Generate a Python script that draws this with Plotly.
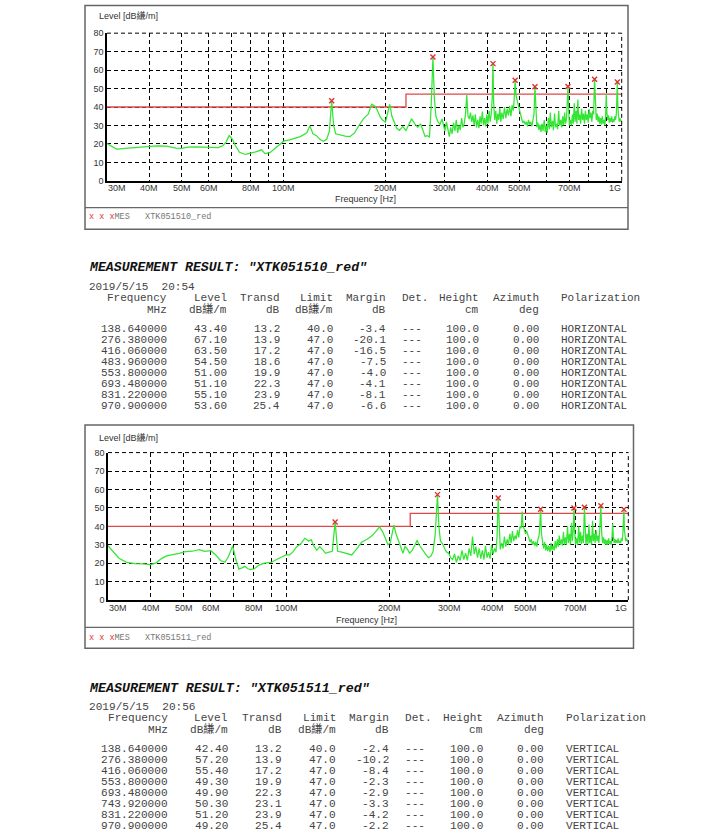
import math
import plotly.graph_objects as go

W, H = 726, 837

# ---------------- spectrum data (MHz, dBuV/m) ----------------
h_spectrum = [
    (30, 20.2), (31, 18.5), (32, 17.2), (34, 17.6), (36, 18.0), (38, 18.3), (40, 18.6), (42, 19.0),
    (45, 18.8), (48, 17.8), (50, 17.6), (52, 18.3), (55, 18.4), (58, 18.3), (61, 18.0), (64, 18.0),
    (66, 19.0), (67.5, 21.0), (69, 24.6), (70.5, 22.5), (72, 19.0), (74, 15.5), (77, 14.3), (80, 15.0),
    (83, 15.8), (86, 16.8), (88, 14.8), (91, 15.3), (94, 17.5), (97, 19.5), (100, 21.5), (104, 22.2),
    (108, 23.0), (112, 24.0), (117, 26.0), (119.5, 29.8), (122, 25.5), (125, 24.5), (128, 22.5),
    (131, 21.5), (134, 22.5), (136.5, 27.0), (138.64, 43.4), (140.5, 30.0), (142.5, 25.5), (147, 24.8),
    (152, 24.2), (157, 24.0), (162, 26.0), (167, 30.0), (172, 33.6), (178, 36.3), (182, 41.5),
    (186, 40.5), (189, 38.5), (193, 34.5), (196, 33.0), (200, 31.8), (203, 36.0), (206, 41.5),
    (209, 35.0), (212, 32.5), (216, 28.5), (220, 27.3), (225, 29.5), (230, 27.3), (234, 30.5),
    (239, 33.6), (244, 31.0), (249, 29.0), (254, 30.9), (258, 27.0), (262, 24.1), (266, 24.5),
    (270, 23.8), (273, 40.0), (276.38, 67.1), (279, 45.0), (282, 35.0), (286, 32.0), (290, 30.5),
    (294, 33.5), (297, 29.5), (300, 27.0), (303, 32.0), (306, 28.0), (309, 24.0), (312, 29.0),
    (315, 25.5), (318, 31.5), (321, 27.0), (324, 33.0), (327, 26.0), (330, 30.0), (333, 27.5),
    (336, 34.0), (339, 29.0), (342, 31.0), (345, 36.0), (348, 46.5), (351, 35.0), (354, 33.5),
    (357, 37.0), (360, 32.0), (363, 35.5), (366, 30.0), (369, 36.0), (372, 29.0), (375, 33.0),
    (378, 28.5), (381, 35.0), (384, 31.0), (387, 37.5), (390, 30.0), (393, 34.0), (396, 29.5),
    (399, 36.0), (402, 31.0), (405, 38.0), (408, 32.0), (411, 36.0), (414, 45.0), (416.06, 63.5),
    (418, 42.0), (421, 33.0), (424, 38.0), (427, 31.0), (430, 36.5), (433, 33.0), (436, 39.5),
    (439, 32.0), (442, 37.0), (446, 33.5), (450, 40.0), (454, 34.0), (458, 39.0), (462, 35.5),
    (466, 40.5), (470, 35.0), (474, 41.0), (478, 38.0), (481, 45.0), (483.96, 54.5), (487, 46.0),
    (490, 44.0), (494, 40.0), (498, 38.0), (502, 35.0), (506, 33.5), (510, 31.5), (514, 32.5),
    (518, 30.5), (522, 32.0), (526, 29.5), (530, 33.0), (534, 30.5), (538, 32.0), (542, 29.5),
    (546, 33.0), (550, 36.0), (553.8, 51.0), (557, 36.0), (561, 29.0), (565, 31.5), (569, 27.5),
    (573, 30.5), (577, 26.5), (581, 31.0), (585, 27.0), (590, 33.0), (594, 26.5), (598, 30.0),
    (602, 26.0), (607, 34.0), (611, 28.0), (615, 37.0), (619, 29.0), (624, 32.5), (628, 27.5),
    (633, 36.5), (637, 29.0), (642, 31.0), (646, 28.0), (651, 38.0), (655, 30.0), (660, 33.0),
    (664, 29.0), (669, 35.0), (673, 30.0), (678, 37.0), (682, 31.0), (687, 34.0), (690, 40.0),
    (693.48, 51.1), (697, 38.0), (700, 30.0), (705, 33.0), (710, 30.0), (715, 36.0), (719, 31.0),
    (724, 42.0), (728, 32.0), (733, 38.0), (737, 31.0), (742, 44.0), (746, 33.0), (751, 36.0),
    (756, 31.0), (761, 39.0), (766, 33.0), (771, 36.5), (776, 31.0), (781, 38.0), (786, 33.0),
    (791, 36.0), (796, 31.5), (801, 39.0), (806, 34.0), (811, 37.0), (816, 32.0), (821, 38.0),
    (826, 36.0), (831.22, 55.1), (836, 38.0), (841, 33.0), (846, 36.5), (851, 32.0), (856, 35.0),
    (861, 31.0), (866, 34.0), (871, 30.5), (876, 35.0), (881, 31.0), (886, 33.0), (891, 30.0),
    (896, 34.0), (900, 47.0), (904, 37.0), (909, 33.0), (914, 35.5), (919, 31.5), (924, 34.0),
    (929, 32.0), (934, 35.0), (939, 31.5), (944, 33.5), (949, 32.0), (954, 35.0), (959, 33.0),
    (964, 36.0), (967, 42.0), (970.9, 53.6), (974, 40.0), (978, 34.0), (983, 32.0), (988, 34.0),
    (994, 32.5), (1000, 33.0),
]

v_spectrum = [
    (30, 29.5), (31, 26.3), (32.3, 22.7), (34, 20.5), (36, 19.8), (38, 19.6), (40, 19.2), (41.5, 20.2),
    (43, 22.5), (44.5, 24.0), (46.5, 24.5), (48.5, 25.3), (50.5, 26.3), (53, 26.5), (55.5, 27.4),
    (57.5, 26.4), (60, 26.8), (62, 24.5), (64, 21.5), (66, 20.5), (67.5, 23.5), (69.5, 29.4),
    (71, 22.0), (72.5, 16.8), (74, 17.5), (75.5, 18.3), (77, 17.0), (78.5, 16.5), (80.5, 17.0),
    (83, 19.0), (86, 20.0), (90, 20.4), (95, 22.7), (99.6, 24.5), (102, 24.5), (104.5, 26.3),
    (107, 29.0), (110, 30.5), (113, 33.5), (116, 32.0), (118, 32.8), (120, 29.5), (122.5, 27.0),
    (125, 29.0), (128, 27.0), (130, 25.4), (133, 26.0), (136, 26.5), (138.64, 42.4), (141, 26.5),
    (145, 26.0), (150, 25.4), (155, 24.5), (160, 27.5), (166, 31.5), (172, 33.0), (178, 35.0),
    (183, 37.5), (187, 39.7), (191, 37.0), (195, 33.0), (198, 30.0), (201, 31.0), (204, 37.0),
    (206, 40.6), (209, 36.0), (213, 31.5), (216, 27.5), (219, 25.4), (222, 29.0), (225, 28.0),
    (229, 25.5), (233, 27.0), (237, 29.5), (241, 32.5), (244, 30.0), (248, 28.0), (252, 26.3),
    (256, 24.5), (260, 23.0), (264, 23.8), (268, 26.0), (272, 35.0), (276.38, 57.2), (279, 40.0),
    (282, 32.0), (286, 30.5), (290, 28.0), (294, 26.0), (298, 25.5), (302, 23.0), (306, 22.0),
    (310, 25.0), (314, 20.5), (318, 24.0), (322, 21.5), (326, 27.0), (330, 22.0), (334, 25.5),
    (338, 21.5), (342, 28.0), (346, 24.0), (350, 34.5), (354, 25.0), (358, 29.0), (362, 23.0),
    (366, 28.0), (370, 22.5), (374, 27.0), (378, 22.0), (382, 29.5), (386, 23.0), (390, 26.0),
    (394, 22.5), (398, 30.0), (402, 25.0), (406, 28.0), (410, 26.0), (413, 35.0), (416.06, 55.4),
    (419, 35.0), (422, 27.5), (426, 31.0), (430, 28.0), (434, 34.5), (438, 29.0), (442, 33.0),
    (446, 30.0), (450, 36.0), (454, 31.0), (458, 37.5), (462, 32.0), (466, 35.0), (470, 33.0),
    (474, 38.0), (478, 34.0), (482, 40.0), (486, 39.0), (489, 48.0), (492, 40.0), (496, 38.5),
    (500, 36.0), (504, 37.5), (508, 35.0), (512, 33.0), (516, 31.5), (520, 33.0), (524, 30.0),
    (528, 32.0), (532, 29.5), (536, 31.5), (540, 29.0), (544, 33.0), (548, 35.0), (550, 38.0),
    (553.8, 49.3), (557, 36.0), (561, 30.0), (565, 28.0), (569, 31.5), (573, 27.0), (577, 30.0),
    (581, 26.5), (585, 29.5), (590, 26.0), (594, 31.0), (598, 27.0), (602, 29.5), (607, 27.0),
    (611, 32.0), (615, 28.0), (620, 33.0), (624, 29.0), (628, 35.0), (632, 30.0), (637, 33.0),
    (641, 29.5), (646, 37.0), (650, 30.0), (655, 34.0), (659, 30.0), (664, 40.0), (668, 31.0),
    (673, 36.0), (677, 30.0), (682, 42.0), (686, 32.0), (690, 38.0), (693.48, 49.9), (697, 37.0),
    (701, 30.0), (706, 33.5), (711, 30.0), (716, 40.0), (720, 31.0), (725, 37.0), (729, 30.5),
    (734, 35.0), (739, 31.0), (743.92, 50.3), (748, 34.0), (752, 30.0), (757, 36.0), (762, 30.5),
    (767, 41.0), (771, 31.0), (776, 35.0), (781, 30.0), (786, 43.0), (790, 32.0), (795, 36.0),
    (800, 31.0), (805, 38.0), (810, 32.0), (815, 35.0), (820, 31.0), (825, 38.0), (831.22, 51.2),
    (836, 36.0), (841, 31.0), (846, 34.0), (851, 30.5), (856, 33.0), (861, 30.0), (866, 32.5),
    (871, 30.0), (876, 33.5), (881, 30.5), (886, 32.0), (891, 30.0), (896, 34.0), (900, 41.5),
    (904, 35.0), (909, 31.0), (914, 33.0), (919, 31.0), (924, 32.5), (929, 31.0), (934, 33.5),
    (939, 31.0), (944, 32.0), (949, 31.0), (954, 33.5), (959, 32.0), (964, 36.0), (967, 42.0),
    (970.9, 49.2), (974, 38.0), (978, 33.0), (983, 32.0), (988, 33.5), (994, 32.0), (1000, 32.5),
]

limit_freq = [30, 230, 230, 1000]
limit_level = [40, 40, 47, 47]

x_grid_vals = [40, 50, 60, 70, 80, 90, 100, 200, 300, 400, 500, 600, 700, 800, 900, 1000]
x_label_vals = [30, 40, 50, 60, 80, 100, 200, 300, 400, 500, 700, 1000]
x_label_text = ["30M", "40M", "50M", "60M", "80M", "100M", "200M", "300M", "400M", "500M", "700M", "1G"]
y_tick_vals = [0, 10, 20, 30, 40, 50, 60, 70, 80]

# ---------------- measurement tables ----------------
t1_name = "XTK051510_red"
t1_date = "2019/5/15  20:54"
t1_freq = [138.64, 276.38, 416.06, 483.96, 553.80, 693.48, 831.22, 970.90]
t1_level = [43.40, 67.10, 63.50, 54.50, 51.00, 51.10, 55.10, 53.60]
t1_transd = [13.2, 13.9, 17.2, 18.6, 19.9, 22.3, 23.9, 25.4]
t1_limit = [40.0, 47.0, 47.0, 47.0, 47.0, 47.0, 47.0, 47.0]
t1_margin = [-3.4, -20.1, -16.5, -7.5, -4.0, -4.1, -8.1, -6.6]
t1_pol = "HORIZONTAL"

t2_name = "XTK051511_red"
t2_date = "2019/5/15  20:56"
t2_freq = [138.64, 276.38, 416.06, 553.80, 693.48, 743.92, 831.22, 970.90]
t2_level = [42.40, 57.20, 55.40, 49.30, 49.90, 50.30, 51.20, 49.20]
t2_transd = [13.2, 13.9, 17.2, 19.9, 22.3, 23.1, 23.9, 25.4]
t2_limit = [40.0, 47.0, 47.0, 47.0, 47.0, 47.0, 47.0, 47.0]
t2_margin = [-2.4, -10.2, -8.4, -2.3, -2.9, -3.3, -4.2, -2.2]
t2_pol = "VERTICAL"

ant_height = 100.0
ant_azimuth = 0.00

col_headers = ["Frequency", "Level", "Transd", "Limit", "Margin", "Det.", "Height", "Azimuth", "Polarization"]
col_units = ["MHz", "dB縑/m", "dB", "dB縑/m", "dB", "", "cm", "deg", ""]

# ---------------- helpers ----------------
def px(x):
    return x / W

def py(y):
    return 1 - y / H

SANS = "Liberation Sans, Arial, sans-serif"
MONO = "Liberation Mono, Courier New, Noto Sans CJK SC, monospace"
NB = "\u00a0"

annotations = []
shapes = []
fig = go.Figure()

def ann(x, y, text, size, color="#333", family=SANS, xanchor="left", xref="paper", yref="paper"):
    annotations.append(dict(x=x, y=y, xref=xref, yref=yref, text=text.replace(" ", NB),
                            showarrow=False, xanchor=xanchor, yanchor="middle",
                            font=dict(size=size, color=color, family=family), borderpad=0))

charts = [
    dict(spec=h_spectrum, mf=t1_freq, ml=t1_level, name=t1_name, xa="x", ya="y",
         plot=(107, 621.7, 28.5, 178), frame=(85, 0.6, 628, 227), sep=205,
         lvl_y=11, freq_lbl=(365, 196.5), xlab_y=185, leg_y=215),
    dict(spec=v_spectrum, mf=t2_freq, ml=t2_level, name=t2_name, xa="x2", ya="y2",
         plot=(108, 628.3, 453, 602.3), frame=(85, 425, 633.5, 651), sep=630,
         lvl_y=437.5, freq_lbl=(367, 622), xlab_y=610.5, leg_y=640.5),
]

for i, c in enumerate(charts):
    sfx = "" if i == 0 else "2"
    l, r, t, b = c["plot"]
    fx0, fy0, fx1, fy1 = c["frame"]
    fig.add_trace(go.Scatter(x=limit_freq, y=limit_level, mode="lines", xaxis=c["xa"], yaxis=c["ya"],
                             line=dict(color="#e04848", width=1.3), hoverinfo="skip", showlegend=False))
    fig.add_trace(go.Scatter(x=[p[0] for p in c["spec"]], y=[p[1] for p in c["spec"]], mode="lines",
                             xaxis=c["xa"], yaxis=c["ya"], line=dict(color="#33e633", width=1.25),
                             showlegend=False))
    fig.add_trace(go.Scatter(x=c["mf"], y=c["ml"], mode="markers", xaxis=c["xa"], yaxis=c["ya"],
                             marker=dict(symbol="x-thin", size=5, line=dict(color="#e03030", width=1.4)),
                             showlegend=False))
    axis_common = dict(showgrid=True, gridcolor="#000", gridwidth=1, griddash="4px,3px",
                       showline=True, linecolor="#000", linewidth=1.6, zeroline=False, ticks="")
    fig.update_layout(**{
        "xaxis" + sfx: dict(axis_common, domain=[px(l), px(r)], anchor="y" + sfx, type="log",
                            range=[math.log10(30), math.log10(1000)], tickvals=x_grid_vals,
                            showticklabels=False),
        "yaxis" + sfx: dict(axis_common, domain=[py(b), py(t)], anchor="x" + sfx, range=[0, 80],
                            tickvals=y_tick_vals, tickfont=dict(size=9, color="#333", family=SANS)),
    })
    # top and right dashed edges of the plot area
    shapes.append(dict(type="line", xref="paper", yref="paper", x0=px(l), x1=px(r), y0=py(t), y1=py(t),
                       line=dict(color="#000", width=1, dash="4px,3px")))
    shapes.append(dict(type="line", xref="paper", yref="paper", x0=px(r), x1=px(r), y0=py(b), y1=py(t),
                       line=dict(color="#000", width=1, dash="4px,3px")))
    # frame and separator
    shapes.append(dict(type="rect", xref="paper", yref="paper", x0=px(fx0), x1=px(fx1), y0=py(fy1), y1=py(fy0),
                       line=dict(color="#666", width=1.5)))
    shapes.append(dict(type="line", xref="paper", yref="paper", x0=px(fx0), x1=px(fx1), y0=py(c["sep"]),
                       y1=py(c["sep"]), line=dict(color="#666", width=1.3)))
    # x tick labels
    n = len(x_label_vals)
    for k, (v, tx) in enumerate(zip(x_label_vals, x_label_text)):
        anchor = "left" if k == 0 else ("right" if k == n - 1 else "center")
        ann(math.log10(v), py(c["xlab_y"]), tx, 9, xanchor=anchor, xref=c["xa"])
    ann(px(98), py(c["lvl_y"]), "Level [dB縑/m]", 9, family=SANS + ", Noto Sans CJK SC")
    ann(px(c["freq_lbl"][0]), py(c["freq_lbl"][1]), "Frequency [Hz]", 9, xanchor="center")
    annotations.append(dict(x=px(87.5), y=py(c["leg_y"]), xref="paper", yref="paper", showarrow=False,
                            xanchor="left", yanchor="middle", borderpad=0,
                            text='<span style="color:#e03030">x' + NB + 'x' + NB + 'x</span>MES' + NB * 3 + c["name"],
                            font=dict(size=8.5, color="#777", family=MONO)))

# ---------------- tables ----------------
col_pos = [12, 21, 29, 37, 45, 47, 59, 68, 71]
col_anchor = ["right", "right", "right", "right", "right", "left", "right", "right", "left"]

def add_table(name, date, freqs, levels, transd, limits, margins, pol, x0, cw, fsz, ys, dy):
    y_title, y_date, y_head, y_unit, y_row0 = ys
    ann(px(x0), py(y_title), '<b><i>MEASUREMENT RESULT: "' + name + '"</i></b>', fsz * 1.2, color="#111",
        family=MONO)
    ann(px(x0), py(y_date), date, fsz, color="#444", family=MONO)

    def put(row_y, texts):
        for pos, anc, tx in zip(col_pos, col_anchor, texts):
            if tx:
                xx = x0 + pos * cw
                ann(px(xx), py(row_y), tx, fsz, color="#444", family=MONO, xanchor=anc)

    put(y_head, col_headers)
    put(y_unit, col_units)
    for k in range(len(freqs)):
        row = [f"{freqs[k]:.6f}", f"{levels[k]:.2f}", f"{transd[k]:.1f}", f"{limits[k]:.1f}",
               f"{margins[k]:.1f}", "---", f"{ant_height:.1f}", f"{ant_azimuth:.2f}", pol]
        put(y_row0 + k * dy, row)

add_table(t1_name, t1_date, t1_freq, t1_level, t1_transd, t1_limit, t1_margin, t1_pol,
          88, 6.65, 11.0, (266, 285, 297, 308.5, 328), 11.1)
add_table(t2_name, t2_date, t2_freq, t2_level, t2_transd, t2_limit, t2_margin, t2_pol,
          88, 6.72, 11.1, (691.5, 710, 722, 733.5, 753.5), 11.05)

fig.update_layout(width=W, height=H, margin=dict(l=0, r=0, t=0, b=0), paper_bgcolor="white",
                  plot_bgcolor="white", showlegend=False, annotations=annotations, shapes=shapes)

fig.write_html("out.html", config={"displayModeBar": False},
               post_script="document.body.style.margin='0';document.body.style.overflow='hidden';")
